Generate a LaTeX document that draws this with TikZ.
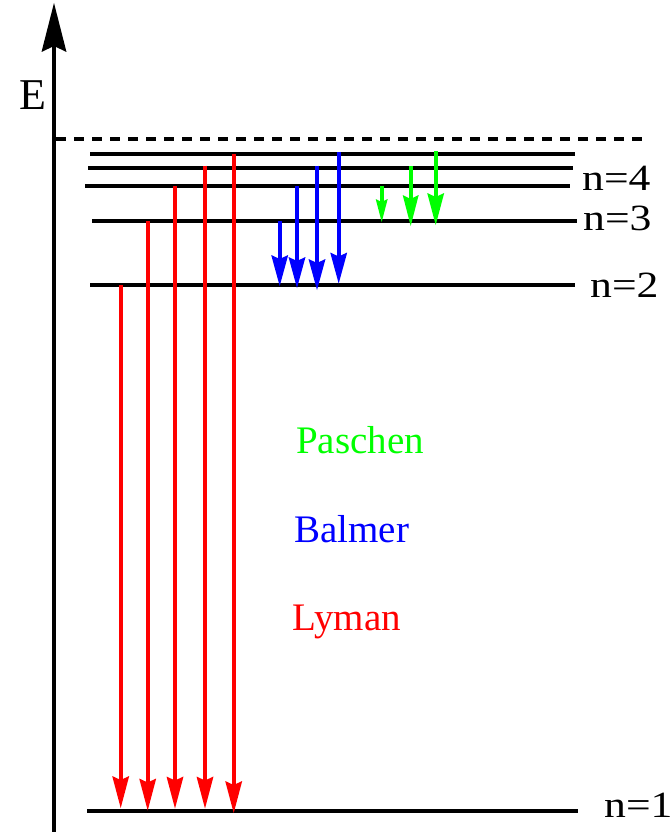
\documentclass[tikz,border=0pt]{standalone}
\usepackage{fontspec}
\setmainfont{Liberation Serif}
\usetikzlibrary{arrows.meta}
\begin{document}
\begin{tikzpicture}[x=1pt,y=-1pt,
  level/.style={line width=4pt},
  axisline/.style={line width=4pt,-{Stealth[length=49pt,width=25pt,inset=6pt,line width=0pt]}},
  trans/.style={line width=4pt,-{Stealth[length=31pt,width=17pt,inset=4pt,line width=0pt]}},
  lyman/.style={trans,draw=red,-{Stealth[length=32pt,width=17pt,inset=4pt,line width=0pt,red]}},
  balmer/.style={trans,draw=blue,-{Stealth[length=31pt,width=17pt,inset=4pt,line width=0pt,blue]}},
  paschen/.style={trans,draw=green,-{Stealth[length=31pt,width=16pt,inset=4pt,line width=0pt,green]}},
  nlabel/.style={anchor=base west,inner sep=0pt,font=\fontsize{37}{41}\selectfont},
  series/.style={anchor=base west,inner sep=0pt,font=\fontsize{39}{43}\selectfont},
]
\useasboundingbox (0,0) rectangle (671,832);

% energy axis
\coordinate (ax0) at (54,832);
\coordinate (ax1) at (54,3);
\draw[axisline] (ax0) -- (ax1);
\node[anchor=base west,inner sep=0pt,font=\fontsize{44}{48}\selectfont] (E) at (19,110) {E};

% ionisation limit
\draw[line width=4pt,dash pattern=on 10pt off 8pt] (56,139) -- (647,139);

% energy levels
\draw[level] (90,154) -- (575,154);
\draw[level] (88,167.7) -- (573,167.7);
\draw[level] (85,185.7) -- (570,185.7);
\draw[level] (92,221) -- (577,221);
\draw[level] (90,285) -- (575,285);
\draw[level] (87,810.7) -- (578,810.7);

% level labels
\node[nlabel] (n4) at (582,190) {\scalebox{1.18}[1]{n=4}};
\node[nlabel] (n3) at (583,230) {\scalebox{1.18}[1]{n=3}};
\node[nlabel] (n2) at (590,297) {\scalebox{1.18}[1]{n=2}};
\node[nlabel] (n1) at (604,817) {\scalebox{1.18}[1]{n=1}};

% Lyman series
\coordinate (l1s) at (120.7,285);   \coordinate (l1e) at (120.7,808);
\coordinate (l2s) at (147.7,221);   \coordinate (l2e) at (147.7,810.5);
\coordinate (l3s) at (175,186);     \coordinate (l3e) at (175,808.5);
\coordinate (l4s) at (205,165.7);   \coordinate (l4e) at (205,808.5);
\coordinate (l5s) at (233.7,154);   \coordinate (l5e) at (233.7,813);
\foreach \i in {1,...,5} \draw[lyman] (l\i s) -- (l\i e);

% Balmer series
\coordinate (b1s) at (279.7,221);   \coordinate (b1e) at (279.7,286);
\coordinate (b2s) at (297,186);     \coordinate (b2e) at (297,288);
\coordinate (b3s) at (317,165.7);   \coordinate (b3e) at (317,290);
\coordinate (b4s) at (338.7,152);   \coordinate (b4e) at (338.7,283.5);
\foreach \i in {1,...,4} \draw[balmer] (b\i s) -- (b\i e);

% Paschen series
\coordinate (p1s) at (381.7,186);   \coordinate (p1e) at (381.7,222);
\coordinate (p2s) at (410.7,166);   \coordinate (p2e) at (410.7,226);
\coordinate (p3s) at (435.7,151);   \coordinate (p3e) at (435.7,225);
\draw[line width=4pt,draw=green,-{Stealth[length=23pt,width=12pt,inset=3pt,line width=0pt,green]}] (p1s) -- (p1e);
\draw[paschen] (p2s) -- (p2e);
\draw[paschen,-{Stealth[length=32pt,width=17pt,inset=4pt,line width=0pt,green]}] (p3s) -- (p3e);

% series names
\node[series,text=green] (pas) at (296,453) {Paschen};
\node[series,text=blue]  (bal) at (294,542.5) {Balmer};
\node[series,text=red]   (lym) at (292.5,630) {Lyman};
\end{tikzpicture}
\end{document}
